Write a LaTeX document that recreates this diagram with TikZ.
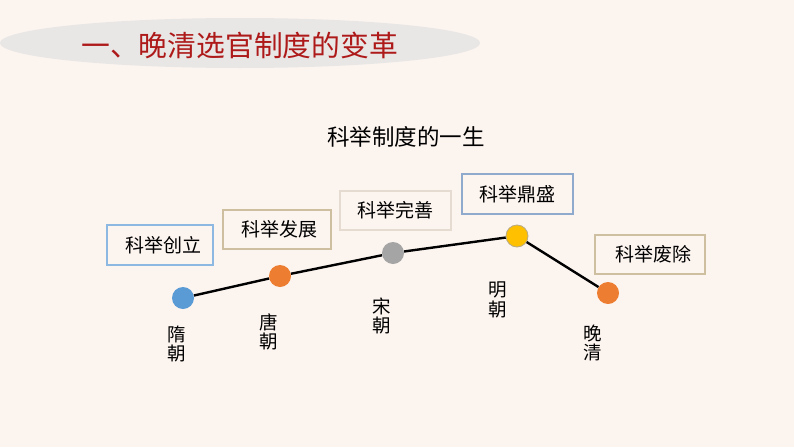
\documentclass[tikz,border=0pt]{standalone}
\usepackage{fontspec}
\setmainfont{Noto Sans CJK SC}
\definecolor{bgc}{HTML}{FCF4EF}
\definecolor{ellc}{HTML}{E8E7E6}
\definecolor{titlered}{HTML}{AE1A1A}
\definecolor{blueb}{HTML}{8DB8E2}
\definecolor{tanb}{HTML}{CDBF9F}
\definecolor{lightb}{HTML}{E6DBD0}
\definecolor{steelb}{HTML}{8FAACC}
\definecolor{dblue}{HTML}{5B9BD5}
\definecolor{dorange}{HTML}{ED7D31}
\definecolor{dgray}{HTML}{A5A5A5}
\definecolor{dyellow}{HTML}{FFC000}
\tikzset{
  stagebox/.style={draw=#1, line width=1.2pt, fill=bgc, minimum height=39pt, inner sep=0pt, font=\fontsize{19pt}{22pt}\selectfont},
  dot/.style={circle, fill=#1, minimum size=22pt, inner sep=0pt},
  era/.style={align=center, font=\fontsize{18.5pt}{19.5pt}\selectfont, inner sep=0pt},
  tline/.style={line width=2.4pt, black}
}
\begin{document}
\begin{tikzpicture}[x=1pt,y=-1pt]
\fill[bgc] (0,0) rectangle (794,447);
\useasboundingbox (0,0) rectangle (794,447);
% title
\fill[ellc] (240,43) ellipse [x radius=240, y radius=25];
\node[text=titlered, font=\fontsize{28.8pt}{30pt}\selectfont, anchor=west, inner sep=0pt] (title) at (81,45) {一、晚清选官制度的变革};
\node[font=\fontsize{22.5pt}{24pt}\selectfont, inner sep=0pt] (sub) at (406,137) {科举制度的一生};
% dots
\node[dot=dblue] (sui) at (183,298) {};
\node[dot=dorange] (tang) at (280,276) {};
\node[dot=dgray] (song) at (393,253) {};
\node[dot=dyellow, draw=dgray!80!dyellow, line width=0.8pt] (ming) at (517,236) {};
\node[dot=dorange] (qing) at (608,293) {};
\draw[tline] (sui) -- (tang) -- (song) -- (ming) -- (qing);
% stage boxes
\node[stagebox=blueb, minimum width=106pt, minimum height=40pt] (b1) at (160,245) {\raisebox{-3pt}{\hspace{6pt}科举创立}};
\node[stagebox=tanb, minimum width=108pt] (b2) at (277,229.5) {\hspace{4pt}科举发展};
\node[stagebox=lightb, minimum width=111pt] (b3) at (395.5,210.5) {科举完善};
\node[stagebox=steelb, minimum width=111pt, minimum height=40pt] (b4) at (517.5,194) {科举鼎盛};
\node[stagebox=tanb, minimum width=110pt] (b5) at (650,254.5) {\hspace{6pt}科举废除};
% era labels
\node[era] (e1) at (177,344) {隋\\朝};
\node[era] (e2) at (269,332) {唐\\朝};
\node[era] (e3) at (382,316) {宋\\朝};
\node[era] (e4) at (498,300) {明\\朝};
\node[era] (e5) at (593,343) {晚\\清};
\end{tikzpicture}
\end{document}
